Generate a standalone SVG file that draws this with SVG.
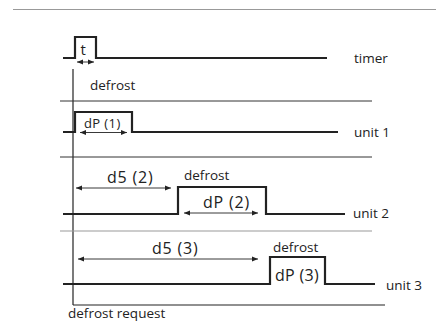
<svg xmlns="http://www.w3.org/2000/svg" width="436" height="323" viewBox="0 0 436 323">
<defs>
<marker id="ah" viewBox="0 0 10 10" refX="10" refY="5" markerWidth="6" markerHeight="6" orient="auto-start-reverse" markerUnits="userSpaceOnUse">
<path d="M0,1 L10,5 L0,9 z" fill="#222"/>
</marker>
<style>
text{font-family:"Open Sans","Liberation Sans",sans-serif;fill:#222}
.s{font-size:13.5px}
.m{font-size:13px}
.l{font-size:16px}
.sig{fill:none;stroke:#222;stroke-width:2.2}
.ax{fill:none;stroke:#222;stroke-width:1.2}
.sep{fill:none;stroke:#333;stroke-width:1}
.gr{fill:none;stroke:#999;stroke-width:1.2}
.arr{fill:none;stroke:#222;stroke-width:0.9;marker-start:url(#ah);marker-end:url(#ah)}
</style>
</defs>
<line class="gr" x1="13" y1="9.5" x2="436" y2="9.5"/>
<g id="axes">
<line class="ax" x1="73" y1="69" x2="73" y2="305"/>
<line class="ax" x1="73" y1="305" x2="385" y2="305"/>
<line class="sep" x1="60" y1="101" x2="372" y2="101"/>
<line class="sep" x1="60" y1="157" x2="372" y2="157"/>
<line class="gr" x1="60" y1="231" x2="372" y2="231"/>
</g>
<g id="timer">
<path class="sig" d="M63,58 H75 V37 H96 V58 H327"/>
<text x="80.5" y="55" style="font-size:15px">t</text>
<text class="s" x="354" y="63">timer</text>
<text class="s" x="90" y="90">defrost</text>
</g>
<g id="unit1">
<path class="sig" d="M63,132 H75 V112 H132 V132 H338"/>
<text class="m" x="84" y="128" letter-spacing="0.4">dP (1)</text>
<text class="s" x="354" y="137">unit 1</text>
</g>
<g id="unit2">
<path class="sig" d="M63,214 H178 V187 H266 V214 H345"/>
<text class="l" x="107" y="183" letter-spacing="0.8">d5 (2)</text>
<text class="s" x="184" y="180">defrost</text>
<text class="l" x="203" y="208" letter-spacing="0.8">dP (2)</text>
<text class="s" x="353" y="218">unit 2</text>
</g>
<g id="unit3">
<path class="sig" d="M63,284 H270 V257 H325 V284 H375"/>
<text class="l" x="152" y="254" letter-spacing="0.8">d5 (3)</text>
<text class="s" x="273" y="252">defrost</text>
<text class="l" x="275" y="281" letter-spacing="0.3">dP (3)</text>
<text class="s" x="386" y="290">unit 3</text>
</g>
<text class="s" x="68" y="318">defrost request</text>
<g id="connectors">
<line class="arr" x1="77" y1="62" x2="94" y2="62"/>
<line class="arr" x1="80" y1="132.5" x2="127" y2="132.5"/>
<line class="arr" x1="76" y1="188" x2="171" y2="188"/>
<line class="arr" x1="184" y1="213" x2="258" y2="213"/>
<line class="arr" x1="78" y1="259" x2="258" y2="259"/>
</g>
</svg>
